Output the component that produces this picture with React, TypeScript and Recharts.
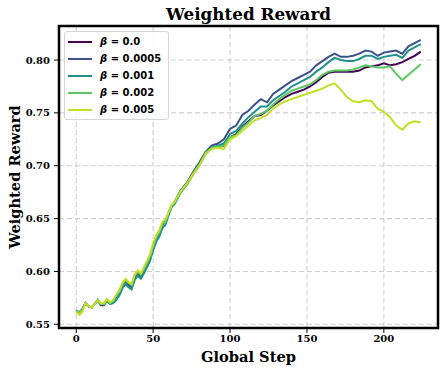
import React from "react"
import { LineChart, Line, XAxis, YAxis, CartesianGrid, Legend, ReferenceArea, Label } from "recharts"

// global steps: every 2 up to 64, then every 4
const steps = [
  0, 2, 4, 6, 8, 10, 12, 14, 16, 18, 20, 22, 24, 26, 28, 30, 32, 34, 36, 38, 40, 42, 44, 46, 48, 50,
  52, 54, 56, 58, 60, 62, 64,
  68, 72, 76, 80, 84, 88, 92, 96, 100, 104, 108, 112, 116, 120, 124, 128, 132, 136, 140, 144, 148,
  152, 156, 160, 164, 168, 172, 176, 180, 184, 188, 192, 196, 200, 204, 208, 212, 216, 220, 224,
]

const beta0 = [
  0.563, 0.561, 0.564, 0.570, 0.567, 0.566, 0.569, 0.573, 0.568, 0.568, 0.573, 0.570, 0.572, 0.577,
  0.581, 0.588, 0.592, 0.589, 0.587, 0.596, 0.600, 0.597, 0.602, 0.608, 0.614, 0.624, 0.632, 0.637,
  0.645, 0.647, 0.655, 0.662, 0.665,
  0.676, 0.683, 0.693, 0.701, 0.712, 0.717, 0.718, 0.719, 0.727, 0.730, 0.737, 0.742, 0.747, 0.748,
  0.752, 0.757, 0.761, 0.765, 0.768, 0.770, 0.772, 0.775, 0.779, 0.784, 0.788, 0.789, 0.789, 0.789,
  0.789, 0.790, 0.793, 0.794, 0.795, 0.797, 0.795, 0.796, 0.798, 0.801, 0.804, 0.808,
]

const beta0005 = [
  0.563, 0.561, 0.564, 0.570, 0.567, 0.566, 0.569, 0.573, 0.569, 0.569, 0.573, 0.570, 0.572, 0.576,
  0.580, 0.587, 0.591, 0.587, 0.585, 0.594, 0.598, 0.595, 0.600, 0.607, 0.613, 0.623, 0.631, 0.636,
  0.644, 0.647, 0.655, 0.662, 0.666,
  0.677, 0.684, 0.694, 0.703, 0.713, 0.719, 0.721, 0.725, 0.735, 0.738, 0.748, 0.752, 0.758, 0.763,
  0.760, 0.768, 0.772, 0.776, 0.780, 0.783, 0.786, 0.789, 0.795, 0.799, 0.803, 0.806, 0.803, 0.803,
  0.804, 0.806, 0.809, 0.808, 0.804, 0.807, 0.808, 0.809, 0.806, 0.813, 0.816, 0.819,
]

const beta001 = [
  0.563, 0.561, 0.564, 0.570, 0.567, 0.566, 0.569, 0.573, 0.569, 0.569, 0.572, 0.569, 0.570, 0.573,
  0.577, 0.584, 0.588, 0.585, 0.583, 0.592, 0.596, 0.593, 0.598, 0.604, 0.610, 0.620, 0.628, 0.633,
  0.641, 0.644, 0.653, 0.661, 0.664,
  0.675, 0.682, 0.692, 0.700, 0.711, 0.717, 0.719, 0.721, 0.730, 0.733, 0.740, 0.746, 0.751, 0.756,
  0.756, 0.762, 0.766, 0.770, 0.775, 0.778, 0.781, 0.784, 0.789, 0.793, 0.798, 0.802, 0.800, 0.799,
  0.799, 0.801, 0.804, 0.804, 0.801, 0.803, 0.804, 0.805, 0.802, 0.809, 0.812, 0.815,
]

const beta002 = [
  0.563, 0.561, 0.564, 0.570, 0.567, 0.566, 0.569, 0.573, 0.569, 0.569, 0.573, 0.570, 0.572, 0.577,
  0.581, 0.588, 0.592, 0.589, 0.587, 0.596, 0.600, 0.597, 0.602, 0.608, 0.614, 0.624, 0.632, 0.637,
  0.645, 0.647, 0.655, 0.662, 0.665,
  0.676, 0.683, 0.693, 0.701, 0.712, 0.717, 0.718, 0.719, 0.727, 0.729, 0.736, 0.741, 0.747, 0.749,
  0.752, 0.758, 0.763, 0.767, 0.771, 0.773, 0.775, 0.777, 0.781, 0.786, 0.789, 0.790, 0.790, 0.790,
  0.791, 0.793, 0.795, 0.794, 0.793, 0.793, 0.794, 0.787, 0.781, 0.786, 0.791, 0.796,
]

const beta005 = [
  0.562, 0.559, 0.562, 0.570, 0.567, 0.566, 0.569, 0.573, 0.570, 0.570, 0.574, 0.571, 0.573, 0.578,
  0.582, 0.589, 0.593, 0.590, 0.588, 0.597, 0.601, 0.598, 0.604, 0.610, 0.616, 0.627, 0.634, 0.639,
  0.647, 0.649, 0.656, 0.663, 0.666,
  0.676, 0.683, 0.692, 0.700, 0.711, 0.716, 0.717, 0.716, 0.725, 0.728, 0.733, 0.738, 0.743, 0.745,
  0.748, 0.754, 0.758, 0.761, 0.763, 0.765, 0.767, 0.769, 0.771, 0.773, 0.776, 0.778, 0.772, 0.765,
  0.761, 0.760, 0.762, 0.761, 0.754, 0.751, 0.746, 0.738, 0.734, 0.740, 0.742, 0.741,
]

const xTicks = [0, 50, 100, 150, 200]
const yTicks = [0.55, 0.6, 0.65, 0.7, 0.75, 0.8]

const seriesList = [
  { key: "b0", label: "0.0", values: beta0, color: "#440154" },
  { key: "b0005", label: "0.0005", values: beta0005, color: "#3b528b" },
  { key: "b001", label: "0.001", values: beta001, color: "#21918c" },
  { key: "b002", label: "0.002", values: beta002, color: "#5ec962" },
  { key: "b005", label: "0.005", values: beta005, color: "#c2df23" },
]

const rows = steps.map((s, i) => {
  const row: Record<string, number> = { step: s }
  seriesList.forEach((sr) => {
    row[sr.key] = sr.values[i]
  })
  return row
})

const X_DOMAIN: [number, number] = [-11.2, 235.2]
const Y_DOMAIN: [number, number] = [0.5465, 0.8322]

const serif = "'DejaVu Serif', serif"
const sans = "'DejaVu Sans', sans-serif"
const tickStyle = { fontSize: 10, fontWeight: 700, fontFamily: serif, fill: "#000" }

function LegendBox() {
  return (
    <div
      style={{
        background: "rgba(255,255,255,0.85)",
        border: "1px solid #d6d6d6",
        borderRadius: 3,
        padding: "1px 7px 1px 3px",
        fontFamily: sans,
        fontSize: 10,
        fontWeight: 700,
        color: "#000",
      }}
    >
      {seriesList.map((s) => (
        <div key={s.key} style={{ display: "flex", alignItems: "center", height: 17 }}>
          <svg width={24} height={4} style={{ marginRight: 8 }}>
            <line x1={0} y1={2} x2={24} y2={2} stroke={s.color} strokeWidth={2} />
          </svg>
          <span>
            <i>β</i> = {s.label}
          </span>
        </div>
      ))}
    </div>
  )
}

export default function App() {
  return (
    <div style={{ position: "absolute", left: 0, top: 0, width: 448, height: 372, background: "#fff" }}>
      <div
        style={{
          position: "absolute",
          left: 59,
          top: 4,
          width: 379,
          textAlign: "center",
          fontFamily: serif,
          fontWeight: 700,
          fontSize: 16.8,
          lineHeight: "20px",
        }}
      >
        Weighted Reward
      </div>
      <LineChart width={448} height={372} data={rows} margin={{ top: 26, right: 10, bottom: 14, left: 0 }}>
        <CartesianGrid stroke="#cfcfcf" strokeWidth={1.1} strokeDasharray="5 3" />
        <XAxis
          type="number"
          dataKey="step"
          domain={X_DOMAIN}
          ticks={xTicks}
          allowDataOverflow
          height={30}
          axisLine={false}
          tickLine={{ stroke: "#000", strokeWidth: 1 }}
          tickSize={5}
          tickMargin={2}
          tick={tickStyle}
        >
          <Label
            content={({ viewBox }: any) => (
              <text
                x={viewBox.x + viewBox.width / 2}
                y={viewBox.y + 28}
                textAnchor="middle"
                dominantBaseline="central"
                fontFamily={serif}
                fontWeight={700}
                fontSize={14.6}
              >
                Global Step
              </text>
            )}
          />
        </XAxis>
        <YAxis
          type="number"
          domain={Y_DOMAIN}
          ticks={yTicks}
          allowDataOverflow
          width={59}
          axisLine={false}
          tickLine={{ stroke: "#000", strokeWidth: 1 }}
          tickSize={5}
          tickMargin={4}
          tick={tickStyle}
          tickFormatter={(v: number) => v.toFixed(2)}
        >
          <Label
            content={({ viewBox }: any) => (
              <text
                x={14}
                y={viewBox.y + viewBox.height / 2}
                transform={`rotate(-90 14 ${viewBox.y + viewBox.height / 2})`}
                textAnchor="middle"
                dominantBaseline="central"
                fontFamily={serif}
                fontWeight={700}
                fontSize={14.6}
              >
                Weighted Reward
              </text>
            )}
          />
        </YAxis>
        {seriesList.map((s) => (
          <Line
            key={s.key}
            type="linear"
            dataKey={s.key}
            stroke={s.color}
            strokeWidth={2}
            dot={false}
            activeDot={false}
            isAnimationActive={false}
          />
        ))}
        <ReferenceArea
          x1={X_DOMAIN[0]}
          x2={X_DOMAIN[1]}
          y1={Y_DOMAIN[0]}
          y2={Y_DOMAIN[1]}
          fill="none"
          stroke="#000"
          strokeWidth={2.5}
          ifOverflow="visible"
        />
        <Legend
          layout="vertical"
          align="center"
          verticalAlign="middle"
          content={() => <LegendBox />}
          wrapperStyle={{ left: 64, top: 31, width: "auto" }}
        />
      </LineChart>
    </div>
  )
}
